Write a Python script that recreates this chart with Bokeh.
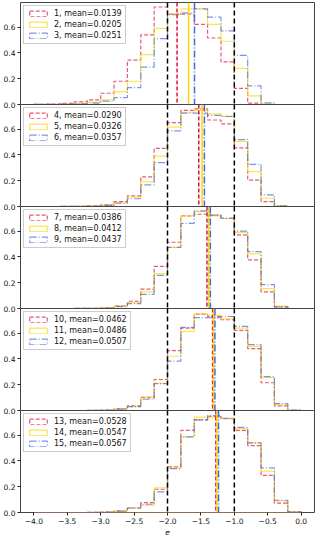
import numpy as np
from bokeh.plotting import figure
from bokeh.layouts import column
from bokeh.models import Span, FixedTicker, PrintfTickFormatter, CustomJSTickFormatter, Range1d
from bokeh.core.properties import value
from bokeh.embed import file_html
from bokeh.resources import INLINE

# ---------------- data ----------------
bin_edges = [-4.0, -3.8, -3.6, -3.4, -3.2, -3.0, -2.8, -2.6, -2.4, -2.2, -2.0,
             -1.8, -1.6, -1.4, -1.2, -1.0, -0.8, -0.6, -0.4, -0.2, 0.0]

series_ids = list(range(1, 16))
mean_values = ["0.0139", "0.0205", "0.0251", "0.0290", "0.0326", "0.0357",
               "0.0386", "0.0412", "0.0437", "0.0462", "0.0486", "0.0507",
               "0.0528", "0.0547", "0.0567"]

# mean of e for each series (vertical lines)
mean_e = [-1.857, -1.684, -1.596,
          -1.532, -1.483, -1.448,
          -1.409, -1.384, -1.359,
          -1.325, -1.310, -1.290,
          -1.276, -1.260, -1.236]

# histogram densities (20 bins from -4.0 to 0.0)
h1 = [0.002, 0.003, 0.008, 0.02, 0.036, 0.087, 0.18, 0.344, 0.54, 0.755, 0.70, 0.70, 0.62, 0.515, 0.33, 0.125, 0.01, 0, 0, 0]
h2 = [0.001, 0.002, 0.004, 0.008, 0.018, 0.036, 0.10, 0.18, 0.387, 0.59, 0.70, 0.74, 0.74, 0.62, 0.49, 0.28, 0.067, 0.005, 0, 0]
h3 = [0.001, 0.001, 0.003, 0.005, 0.01, 0.026, 0.054, 0.13, 0.29, 0.51, 0.695, 0.71, 0.74, 0.677, 0.57, 0.38, 0.144, 0.013, 0, 0]
h4 = [0, 0, 0.001, 0.002, 0.005, 0.013, 0.038, 0.082, 0.23, 0.45, 0.65, 0.744, 0.756, 0.67, 0.64, 0.454, 0.205, 0.038, 0.002, 0]
h5 = [0, 0, 0.001, 0.002, 0.004, 0.01, 0.03, 0.072, 0.19, 0.39, 0.615, 0.73, 0.744, 0.718, 0.70, 0.505, 0.27, 0.064, 0.005, 0]
h6 = [0, 0, 0.001, 0.002, 0.003, 0.008, 0.025, 0.06, 0.167, 0.34, 0.585, 0.723, 0.723, 0.705, 0.697, 0.518, 0.326, 0.09, 0.005, 0]
h7 = [0, 0, 0, 0.001, 0.002, 0.005, 0.02, 0.056, 0.15, 0.326, 0.513, 0.718, 0.73, 0.723, 0.697, 0.57, 0.377, 0.128, 0.013, 0]
h8 = [0, 0, 0, 0.001, 0.002, 0.005, 0.018, 0.046, 0.128, 0.27, 0.474, 0.718, 0.75, 0.718, 0.697, 0.59, 0.423, 0.154, 0.018, 0]
h9 = [0, 0, 0, 0.001, 0.002, 0.004, 0.015, 0.038, 0.11, 0.256, 0.474, 0.66, 0.756, 0.723, 0.70, 0.60, 0.44, 0.185, 0.013, 0]
h10 = [0, 0, 0, 0, 0.001, 0.004, 0.012, 0.036, 0.10, 0.24, 0.464, 0.638, 0.746, 0.728, 0.703, 0.62, 0.48, 0.215, 0.036, 0.001]
h11 = [0, 0, 0, 0, 0.001, 0.003, 0.01, 0.03, 0.105, 0.21, 0.42, 0.613, 0.749, 0.736, 0.71, 0.638, 0.497, 0.254, 0.044, 0.002]
h12 = [0, 0, 0, 0, 0.001, 0.003, 0.01, 0.03, 0.087, 0.208, 0.382, 0.644, 0.72, 0.72, 0.728, 0.651, 0.51, 0.262, 0.054, 0.003]
h13 = [0, 0, 0, 0, 0.001, 0.003, 0.01, 0.035, 0.077, 0.18, 0.354, 0.636, 0.718, 0.744, 0.726, 0.636, 0.518, 0.287, 0.072, 0.005]
h14 = [0, 0, 0, 0, 0.001, 0.003, 0.01, 0.035, 0.056, 0.19, 0.346, 0.585, 0.738, 0.738, 0.73, 0.65, 0.54, 0.32, 0.09, 0.005]
h15 = [0, 0, 0, 0, 0.001, 0.003, 0.01, 0.035, 0.064, 0.16, 0.34, 0.585, 0.718, 0.75, 0.73, 0.66, 0.54, 0.346, 0.095, 0.005]

hists = [h1, h2, h3, h4, h5, h6, h7, h8, h9, h10, h11, h12, h13, h14, h15]

ref_lines = [-2.0, -1.0]
y_ticks = [0.0, 0.2, 0.4, 0.6]
x_ticks = [-4.0, -3.5, -3.0, -2.5, -2.0, -1.5, -1.0, -0.5, 0.0]

# ---------------- style ----------------
colors = ["crimson", "gold", "royalblue"]
dashes = ["4 2", "solid", "7 2 1 2"]
FONT = "DejaVu Sans"
FS = "7.5px"
W = 316
PH = 102
OV = 6   # overlap so that the bottom "0.0" label of a panel is not clipped


def step_outline(edges, vals):
    xs = [edges[0]]
    ys = [0.0]
    for i, v in enumerate(vals):
        xs += [edges[i], edges[i + 1]]
        ys += [v, v]
    xs.append(edges[-1])
    ys.append(0.0)
    return xs, ys


x_range = Range1d(-4.2, 0.2)
figs = []
for k in range(5):
    last = (k == 4)
    top = 2 if k == 0 else 0
    bottom = 25 if last else OV
    p = figure(width=W, height=PH + top + bottom,
               x_range=x_range, y_range=Range1d(0, 0.79),
               output_backend="svg", toolbar_location=None,
               x_axis_location="below" if last else None,
               min_border_left=20, min_border_right=2,
               min_border_top=top, min_border_bottom=bottom,
               margin=(0, 0, 0 if last else -OV, 0))
    p.xgrid.visible = False
    p.ygrid.visible = False
    p.outline_line_color = "#444444"
    p.outline_line_width = 1
    p.background_fill_color = "white"
    p.border_fill_color = "white"
    p.border_fill_alpha = 0

    yax = p.yaxis[0]
    yax.ticker = FixedTicker(ticks=y_ticks, minor_ticks=[])
    yax.formatter = PrintfTickFormatter(format="%.1f")
    yax.axis_line_color = None
    yax.major_tick_out = 3
    yax.major_tick_in = 0
    yax.minor_tick_line_color = None
    yax.major_tick_line_color = "#222222"
    yax.major_label_standoff = 2
    yax.major_label_text_font = FONT
    yax.major_label_text_font_size = FS
    yax.major_label_text_color = "#111111"

    if last:
        xax = p.xaxis[0]
        xax.ticker = FixedTicker(ticks=x_ticks, minor_ticks=[])
        xax.formatter = CustomJSTickFormatter(code="return tick.toFixed(1).replace('-', '\u2212');")
        xax.axis_line_color = None
        xax.major_tick_out = 3
        xax.major_tick_in = 0
        xax.minor_tick_line_color = None
        xax.major_tick_line_color = "#222222"
        xax.major_label_standoff = 2
        xax.major_label_text_font = FONT
        xax.major_label_text_font_size = FS
        xax.major_label_text_color = "#111111"
        xax.axis_label = "e"
        xax.axis_label_text_font = FONT
        xax.axis_label_text_font_size = FS
        xax.axis_label_text_font_style = "italic"
        xax.axis_label_standoff = 2
        xax.axis_label_text_color = "#111111"

    for j in range(3):
        s = 3 * k + j
        xs, ys = step_outline(bin_edges, hists[s])
        p.patch(xs, ys, fill_alpha=0, line_color=colors[j], line_alpha=0.7,
                line_width=1.2, line_dash=dashes[j],
                legend_label=f"{series_ids[s]}, mean={mean_values[s]}")

    for loc in ref_lines:
        p.add_layout(Span(location=loc, dimension="height", line_color="black",
                          line_dash="5 3", line_width=1.5))
    for j in range(3):
        s = 3 * k + j
        p.add_layout(Span(location=mean_e[s], dimension="height", line_color=colors[j],
                          line_dash=dashes[j], line_width=1.5))

    lg = p.legend[0]
    lg.location = "top_left"
    lg.margin = 3
    lg.padding = 3
    lg.spacing = 2
    lg.glyph_width = 22
    lg.glyph_height = 7
    lg.label_height = 9
    lg.label_standoff = 5
    lg.label_text_font = FONT
    lg.label_text_font_size = "8px"
    lg.label_text_color = "#111111"
    lg.border_line_color = "#cccccc"
    lg.border_line_alpha = 1
    lg.border_line_width = 1
    lg.background_fill_alpha = 0.8

    figs.append(p)

layout = column(*figs, spacing=0)
open("out.html", "w").write(file_html(layout, INLINE))
